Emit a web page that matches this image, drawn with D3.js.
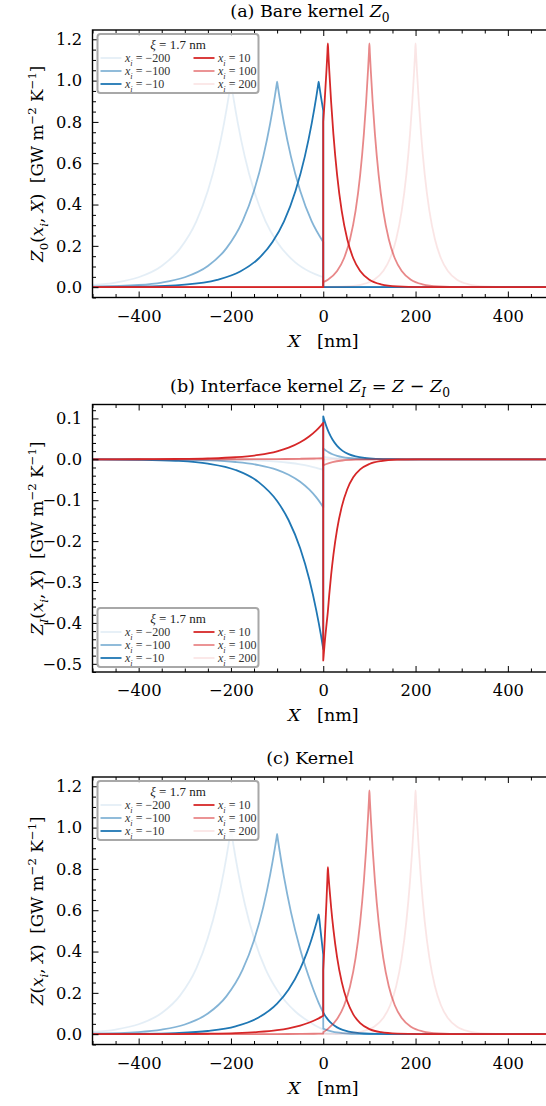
<!DOCTYPE html>
<html>
<head>
<meta charset="utf-8">
<script src="https://cdn.jsdelivr.net/npm/d3@7"></script>
<style>
body { margin: 0; background: #fff; }
svg { display: block; }
text { font-family: "DejaVu Serif", serif; white-space: pre; }
</style>
</head>
<body>
<svg width="546" height="1106"></svg>
<script>
// source positions of the curves, legend order
const xiValues = [-200, -100, -10, 10, 100, 200];
const xiLegendTitle = "1.7";

const xTicks = [-400, -200, 0, 200, 400];
const yTicksA = [0, 0.2, 0.4, 0.6, 0.8, 1.0, 1.2];
const yTicksB = [-0.5, -0.4, -0.3, -0.2, -0.1, 0, 0.1];
const yTicksC = [0, 0.2, 0.4, 0.6, 0.8, 1.0, 1.2];

// (a) bare kernel Z0, points [X, Z]
const bareM200 = [[-500,0.0105],[-450,0.0225],[-400,0.048],[-350,0.1025],[-310,0.188],[-275,0.319],[-250,0.467],[-230,0.632],[-215,0.793],[-205,0.922],[-201,0.980],[-200,0.995],[-199,0.980],[-195,0.922],[-185,0.793],[-170,0.632],[-150,0.467],[-125,0.319],[-100,0.219],[-60,0.119],[-30,0.0757],[0,0.048],[0,0],[500,0]];
const bareM100 = [[-500,0.0023],[-400,0.0105],[-350,0.0225],[-300,0.048],[-250,0.1025],[-210,0.188],[-175,0.319],[-150,0.467],[-130,0.632],[-115,0.793],[-105,0.922],[-101,0.980],[-100,0.995],[-99,0.980],[-95,0.922],[-85,0.793],[-70,0.632],[-50,0.467],[-25,0.319],[0,0.219],[0,0],[500,0]];
const bareM10 = [[-500,0.0006],[-400,0.0027],[-300,0.0123],[-230,0.0355],[-180,0.0757],[-140,0.1388],[-110,0.219],[-85,0.319],[-60,0.467],[-40,0.632],[-25,0.793],[-15,0.922],[-11,0.980],[-10,0.995],[-9,0.980],[-5,0.922],[0,0.855],[0,0],[500,0]];
const bareP10 = [[-500,0],[0,0],[0,0.801],[3,0.899],[7,1.050],[9,1.135],[10,1.18],[11,1.135],[13,1.050],[17,0.899],[22,0.741],[30,0.5435],[40,0.369],[52,0.232],[65,0.140],[80,0.0782],[100,0.0361],[125,0.0137],[160,0.0035],[210,0.0005],[500,0]];
const bareP100 = [[-500,0],[0,0],[0,0.0244],[10,0.0361],[30,0.0782],[45,0.140],[58,0.232],[70,0.369],[80,0.5435],[88,0.741],[93,0.899],[97,1.050],[99,1.135],[100,1.18],[101,1.135],[103,1.050],[107,0.899],[112,0.741],[120,0.5435],[130,0.369],[142,0.232],[155,0.140],[170,0.0782],[190,0.0361],[215,0.0137],[250,0.0035],[300,0.0005],[500,0]];
const bareP200 = [[-500,0],[0,0],[0,0.0005],[50,0.0035],[85,0.0137],[110,0.0361],[130,0.0782],[145,0.140],[158,0.232],[170,0.369],[180,0.5435],[188,0.741],[193,0.899],[197,1.050],[199,1.135],[200,1.18],[201,1.135],[203,1.050],[207,0.899],[212,0.741],[220,0.5435],[230,0.369],[242,0.232],[255,0.140],[270,0.0782],[290,0.0361],[315,0.0137],[350,0.0035],[400,0.0005],[500,0]];

// (b) interface kernel Z_I
const ifM200 = [[-500,0],[-400,-0.0001],[-300,-0.0003],[-200,-0.0013],[-140,-0.0031],[-100,-0.0057],[-75,-0.0084],[-50,-0.0122],[-30,-0.0166],[-15,-0.0208],[-5,-0.0242],[0,-0.0261],[0,0.0059],[7,0.0045],[20,0.0027],[42,0.0012],[70,0.0004],[120,0.0001],[500,0]];
const ifM100 = [[-500,-0.0001],[-400,-0.0003],[-300,-0.0012],[-250,-0.0026],[-190,-0.0066],[-140,-0.0140],[-100,-0.0257],[-75,-0.0376],[-50,-0.0549],[-30,-0.0743],[-15,-0.0932],[-5,-0.1085],[0,-0.117],[0,0.027],[3,0.0240],[7,0.0206],[12,0.0170],[20,0.0124],[30,0.0084],[42,0.0053],[55,0.0032],[70,0.0018],[90,0.0008],[120,0.0003],[200,0],[500,0]];
const ifM10 = [[-500,-0.0002],[-400,-0.0011],[-320,-0.0036],[-250,-0.0105],[-190,-0.0261],[-140,-0.0557],[-100,-0.102],[-75,-0.149],[-50,-0.2176],[-30,-0.2946],[-15,-0.370],[-5,-0.430],[-1,-0.457],[0,-0.464],[0,0.105],[1,0.101],[3,0.0935],[7,0.080],[12,0.0659],[20,0.0484],[30,0.0328],[42,0.0206],[55,0.0125],[70,0.0070],[90,0.0032],[115,0.0012],[150,0.0003],[200,0],[500,0]];
const ifP10 = [[-500,0],[-400,0.0002],[-320,0.0007],[-250,0.0020],[-190,0.0050],[-140,0.0107],[-100,0.0196],[-75,0.0286],[-50,0.0417],[-30,0.0565],[-15,0.0709],[-5,0.0825],[0,0.089],[0,-0.492],[1,-0.478],[3,-0.451],[7,-0.405],[10,-0.372],[13,-0.331],[17,-0.2835],[22,-0.2336],[30,-0.1713],[40,-0.1163],[52,-0.0731],[65,-0.0441],[80,-0.0247],[100,-0.0114],[125,-0.0043],[160,-0.0010],[210,-0.0002],[500,0]];
const ifP100 = [[-500,0],[-200,0.0001],[-100,0.0006],[-50,0.0013],[-20,0.0020],[0,0.0027],[0,-0.015],[7,-0.0114],[20,-0.0069],[42,-0.0029],[70,-0.0010],[120,-0.0001],[500,0]];
const ifP200 = [[-500,0],[0,0.0001],[0,-0.0003],[50,-0.0001],[500,0]];

// (c) kernel Z = Z0 + Z_I
const kerM200 = [[-500,0.0105],[-450,0.0225],[-400,0.0479],[-350,0.1024],[-310,0.1878],[-275,0.3186],[-250,0.4664],[-230,0.6312],[-215,0.792],[-205,0.9208],[-201,0.9787],[-200,0.9937],[-199,0.9787],[-195,0.9206],[-185,0.7914],[-170,0.630],[-150,0.4643],[-125,0.3151],[-100,0.2133],[-60,0.1085],[-30,0.0591],[0,0.0219],[0,0.0059],[7,0.0045],[20,0.0027],[42,0.0012],[70,0.0004],[120,0.0001],[500,0]];
const kerM100 = [[-500,0.0023],[-400,0.0102],[-350,0.0219],[-300,0.0467],[-250,0.0998],[-210,0.183],[-175,0.311],[-150,0.455],[-130,0.615],[-115,0.772],[-105,0.898],[-101,0.954],[-100,0.969],[-99,0.954],[-95,0.894],[-85,0.760],[-70,0.591],[-50,0.411],[-25,0.238],[-10,0.152],[0,0.104],[0,0.027],[3,0.0240],[7,0.0206],[12,0.0170],[20,0.0124],[30,0.0084],[42,0.0053],[55,0.0032],[70,0.0018],[90,0.0008],[120,0.0003],[200,0],[500,0]];
const kerM10 = [[-500,0.0003],[-400,0.0016],[-320,0.0053],[-250,0.0153],[-190,0.0379],[-140,0.0809],[-100,0.1484],[-75,0.2167],[-50,0.3164],[-35,0.3972],[-25,0.4622],[-18,0.5139],[-14,0.546],[-11,0.5714],[-10,0.580],[-9,0.566],[-6,0.505],[-3,0.445],[0,0.385],[0,0.105],[1,0.101],[3,0.0935],[7,0.080],[12,0.0659],[20,0.0484],[30,0.0328],[42,0.0206],[55,0.0125],[70,0.0070],[90,0.0032],[115,0.0012],[150,0.0003],[200,0],[500,0]];
const kerP10 = [[-500,0],[-400,0.0002],[-320,0.0007],[-250,0.0020],[-190,0.0050],[-140,0.0107],[-100,0.0196],[-75,0.0286],[-50,0.0417],[-30,0.0565],[-15,0.0709],[-5,0.0825],[0,0.089],[0,0.309],[3,0.448],[7,0.645],[9,0.755],[10,0.808],[11,0.777],[13,0.719],[17,0.6155],[22,0.507],[30,0.372],[40,0.253],[52,0.159],[65,0.096],[80,0.0535],[100,0.0247],[125,0.0094],[160,0.0025],[210,0.0004],[500,0]];
const kerP100 = [[-500,0],[-200,0.0001],[-100,0.0006],[-50,0.0013],[-20,0.0020],[0,0.0027],[0,0.0094],[10,0.0259],[30,0.0735],[45,0.1374],[58,0.2304],[70,0.368],[80,0.5428],[88,0.7405],[93,0.8986],[97,1.0496],[99,1.1347],[100,1.1797],[101,1.135],[103,1.050],[107,0.899],[112,0.741],[120,0.5435],[130,0.369],[142,0.232],[155,0.140],[170,0.0782],[190,0.0361],[215,0.0137],[250,0.0035],[300,0.0005],[500,0]];
const kerP200 = [[-500,0],[0,0],[0,0.0002],[50,0.0034],[85,0.0137],[110,0.0361],[130,0.0782],[145,0.140],[158,0.232],[170,0.369],[180,0.5435],[188,0.741],[193,0.899],[197,1.050],[199,1.135],[200,1.18],[201,1.135],[203,1.050],[207,0.899],[212,0.741],[220,0.5435],[230,0.369],[242,0.232],[255,0.140],[270,0.0782],[290,0.0361],[315,0.0137],[350,0.0035],[400,0.0005],[500,0]];

const svg = d3.select("svg");
const plotLeft = 92.5, plotRight = 554, plotH = 267.5;
const tops = [30, 404.5, 777];
const yDomains = [[-0.05, 1.245], [-0.52, 0.134], [-0.05, 1.245]];
const yTicks = [yTicksA, yTicksB, yTicksC];
const yMinorStep = [0.05, 0.02, 0.05];
const series = [
  [bareM200, bareM100, bareM10, bareP10, bareP100, bareP200],
  [ifM200, ifM100, ifM10, ifP10, ifP100, ifP200],
  [kerM200, kerM100, kerM10, kerP10, kerP100, kerP200]
];
const colors = ["#1f77b4", "#1f77b4", "#1f77b4", "#d62728", "#d62728", "#d62728"];
const alphas = [0.12, 0.55, 1, 1, 0.55, 0.12];

// text with italic / sub / sup pieces
function rich(sel, parts, size, family) {
  let shift = 0;
  parts.forEach(([t, s]) => {
    const isSub = s.startsWith("sub"), isSup = s === "sup";
    const target = isSub ? size * 0.3 : isSup ? -size * 0.4 : 0;
    sel.append("tspan").text(t)
      .attr("dy", target - shift)
      .style("font-size", ((isSub || isSup) ? size * 0.7 : size) + "px")
      .style("font-style", s.includes("i") ? "italic" : null)
      .style("font-family", family || null);
    shift = target;
  });
}

const titles = [
  [["(a) Bare kernel ", ""], ["Z", "i"], ["0", "sub"]],
  [["(b) Interface kernel ", ""], ["Z", "i"], ["I", "subi"], [" = ", ""], ["Z", "i"], [" − ", ""], ["Z", "i"], ["0", "sub"]],
  [["(c) Kernel", ""]]
];
const ySym = [
  [["Z", "i"], ["0", "sub"]],
  [["Z", "i"], ["I", "subi"]],
  [["Z", "i"]]
];
const yUnit = [["(", ""], ["x", "i"], ["i", "subi"], [", ", ""], ["X", "i"], [")  [GW m", ""], ["−2", "sup"], [" K", ""], ["−1", "sup"], ["]", ""]];

const x = d3.scaleLinear().domain([-500, 500]).range([plotLeft, plotRight]);
const xMinor = d3.range(-500, 501, 50).filter(v => !xTicks.includes(v));

function pathFor(pts, y) {
  const segs = [[pts[0]]];
  for (let i = 1; i < pts.length; i++) {
    if (pts[i][0] === pts[i - 1][0]) segs.push([]);
    segs[segs.length - 1].push(pts[i]);
  }
  const line = d3.line().x(d => x(d[0])).y(d => y(d[1])).curve(d3.curveMonotoneX);
  return segs.map(s => line(s)).join("").replace(/M/g, (m, i) => i === 0 ? "M" : "L");
}

tops.forEach((top, k) => {
  const bottom = top + plotH;
  const y = d3.scaleLinear().domain(yDomains[k]).range([bottom, top]);
  const g = svg.append("g");

  g.append("clipPath").attr("id", "clip" + k)
    .append("rect").attr("x", plotLeft).attr("y", top)
    .attr("width", plotRight - plotLeft).attr("height", plotH);

  const lines = g.append("g").attr("clip-path", `url(#clip${k})`);
  series[k].forEach((s, j) => {
    lines.append("path")
      .attr("d", pathFor(s, y))
      .attr("fill", "none")
      .attr("stroke", colors[j])
      .attr("stroke-opacity", alphas[j])
      .attr("stroke-width", 1.8)
      .attr("stroke-linejoin", "round");
  });

  // ticks, all pointing inward
  const [y0, y1] = yDomains[k];
  const st = yMinorStep[k];
  const yMinor = d3.range(Math.ceil(y0 / st), Math.floor(y1 / st) + 1).map(i => +(i * st).toFixed(3))
    .filter(v => !yTicks[k].some(t => Math.abs(t - v) < 1e-6));

  const addAxis = (axis, tr) => {
    const a = g.append("g").attr("transform", tr).call(axis);
    a.select(".domain").remove();
    a.selectAll("line").attr("stroke", "#000").attr("stroke-width", 1);
    a.attr("font-family", "DejaVu Serif").attr("font-size", 16.3);
    a.selectAll("text").attr("fill", "#000");
    return a;
  };
  addAxis(d3.axisBottom(x).tickValues(xTicks).tickSizeInner(-6).tickSizeOuter(0).tickPadding(12.5).tickFormat(d3.format("d")), `translate(0,${bottom})`);
  addAxis(d3.axisBottom(x).tickValues(xMinor).tickSizeInner(-3.5).tickSizeOuter(0).tickFormat(""), `translate(0,${bottom})`);
  addAxis(d3.axisTop(x).tickValues(xTicks).tickSizeInner(-6).tickSizeOuter(0).tickFormat(""), `translate(0,${top})`);
  addAxis(d3.axisTop(x).tickValues(xMinor).tickSizeInner(-3.5).tickSizeOuter(0).tickFormat(""), `translate(0,${top})`);
  addAxis(d3.axisLeft(y).tickValues(yTicks[k]).tickSizeInner(-6).tickSizeOuter(0).tickPadding(10.5).tickFormat(d3.format(".1f")), `translate(${plotLeft},0)`);
  addAxis(d3.axisLeft(y).tickValues(yMinor).tickSizeInner(-3.5).tickSizeOuter(0).tickFormat(""), `translate(${plotLeft},0)`);
  addAxis(d3.axisRight(y).tickValues(yTicks[k]).tickSizeInner(-6).tickSizeOuter(0).tickFormat(""), `translate(${plotRight},0)`);
  addAxis(d3.axisRight(y).tickValues(yMinor).tickSizeInner(-3.5).tickSizeOuter(0).tickFormat(""), `translate(${plotRight},0)`);

  g.append("rect").attr("x", plotLeft).attr("y", top)
    .attr("width", plotRight - plotLeft).attr("height", plotH)
    .attr("fill", "none").attr("stroke", "#000").attr("stroke-width", 1.4);

  // legend
  const lw = 161, lh = 59;
  const lx = plotLeft + 5, ly = k === 1 ? bottom - 5 - lh : top + 4;
  const leg = g.append("g").attr("transform", `translate(${lx},${ly})`);
  leg.append("rect").attr("width", lw).attr("height", lh).attr("rx", 3)
    .attr("fill", "#fff").attr("fill-opacity", 0.8)
    .attr("stroke", "#a8a8a8").attr("stroke-width", 2);
  rich(leg.append("text").attr("x", lw / 2).attr("y", 15).attr("text-anchor", "middle").attr("fill", "#222"),
    [["ξ", "i"], [" = " + xiLegendTitle + " nm", ""]], 13, "Liberation Serif");
  xiValues.forEach((v, j) => {
    const col = Math.floor(j / 3), row = j % 3;
    const cx = col === 0 ? 3 : 96, cy = 24 + row * 13;
    leg.append("line").attr("x1", cx).attr("x2", cx + 21).attr("y1", cy).attr("y2", cy)
      .attr("stroke", colors[j]).attr("stroke-opacity", alphas[j]).attr("stroke-width", 1.8);
    rich(leg.append("text").attr("x", cx + 24.5).attr("y", cy + 4).attr("fill", "#333"),
      [["x", "i"], ["i", "subi"], [" = " + String(v).replace("-", "−"), ""]], 12, "Liberation Serif");
  });

  // title, axis labels
  rich(g.append("text").attr("x", 310).attr("y", top - 13).attr("text-anchor", "middle"), titles[k], 17.5);
  rich(g.append("text").attr("x", (plotLeft + plotRight) / 2).attr("y", bottom + 49).attr("text-anchor", "middle"),
    [["X", "i"], ["   [nm]", ""]], 17.5);
  rich(g.append("text")
    .attr("transform", `translate(43,${(top + bottom) / 2}) rotate(-90)`)
    .attr("text-anchor", "middle"), ySym[k].concat(yUnit), 16.8);
});
</script>
</body>
</html>
